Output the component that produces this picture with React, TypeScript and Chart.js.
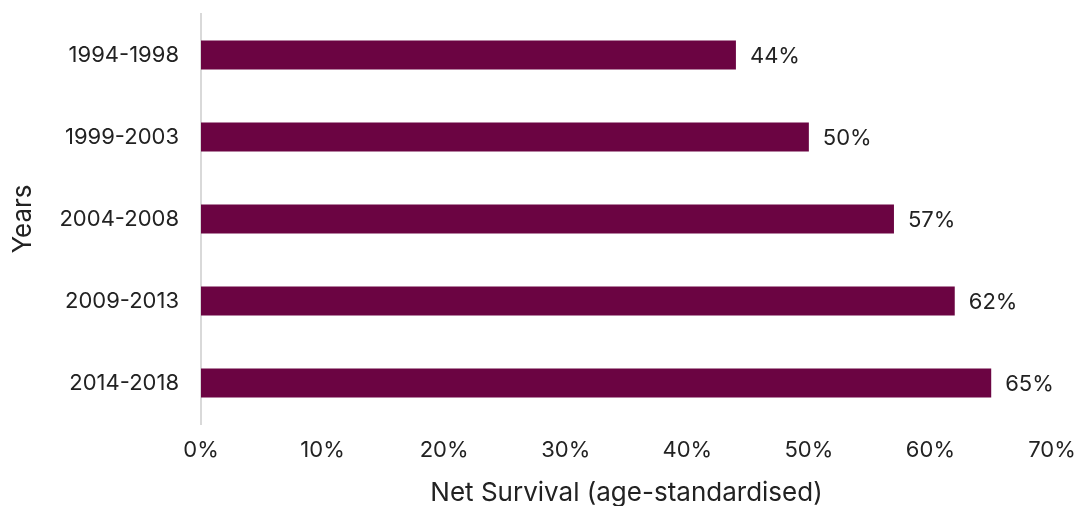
import React, { useEffect, useRef } from "react";
import { Chart, registerables } from "chart.js";

Chart.register(...registerables);

const categories = ["1994-1998", "1999-2003", "2004-2008", "2009-2013", "2014-2018"];
const survival = [44, 50, 57, 62, 65];
const xTicks = [0, 10, 20, 30, 40, 50, 60, 70];

const FONT = "Inter, 'Open Sans', sans-serif";
const TEXT = "#222222";

const labelPlugin = {
  id: "barLabels",
  afterDatasetsDraw(chart: any) {
    const ctx = chart.ctx;
    const meta = chart.getDatasetMeta(0);
    ctx.save();
    ctx.font = `22px ${FONT}`;
    ctx.fillStyle = TEXT;
    ctx.textAlign = "left";
    ctx.textBaseline = "middle";
    meta.data.forEach((bar: any, i: number) => {
      ctx.fillText(`${survival[i]}%`, bar.x + 14, bar.y + 1);
    });
    ctx.restore();
  },
};

const zeroPad = (s: any) => {
  s.paddingLeft = 0;
  s.paddingRight = 0;
  s.paddingTop = 0;
  s.paddingBottom = 0;
};

export default function App() {
  const ref = useRef<HTMLCanvasElement>(null);
  useEffect(() => {
    const chart = new Chart(ref.current!, {
      type: "bar",
      data: {
        labels: categories,
        datasets: [
          {
            data: survival,
            backgroundColor: "#6b0442",
            barPercentage: 0.354,
            categoryPercentage: 1,
          },
        ],
      },
      options: {
        indexAxis: "y",
        animation: false,
        responsive: false,
        maintainAspectRatio: false,
        layout: { padding: { top: 14, right: 26, left: 0, bottom: 0 } },
        plugins: { legend: { display: false }, tooltip: { enabled: false } },
        scales: {
          x: {
            min: 0,
            max: 70,
            afterBuildTicks: (s: any) => {
              s.ticks = xTicks.map((v) => ({ value: v }));
            },
            afterFit: (s: any) => {
              s.height = 82;
              zeroPad(s);
            },
            grid: { display: false, drawTicks: false },
            border: { display: false },
            ticks: {
              padding: 13,
              color: TEXT,
              font: { family: FONT, size: 22 },
              maxRotation: 0,
              callback: (v: any) => `${v}%`,
            },
            title: {
              display: true,
              text: "Net Survival (age-standardised)",
              color: TEXT,
              font: { family: FONT, size: 26, lineHeight: 1 },
              padding: 0,
            },
          },
          y: {
            afterFit: (s: any) => {
              s.width = 201;
              zeroPad(s);
            },
            grid: { display: false, drawTicks: false },
            border: { display: true, color: "#d9d9d9", width: 2 },
            ticks: {
              padding: 22,
              color: TEXT,
              font: { family: FONT, size: 22 },
            },
            title: {
              display: true,
              text: "Years",
              color: TEXT,
              font: { family: FONT, size: 26, lineHeight: 1 },
              padding: { top: 10, bottom: 0 },
            },
          },
        },
      },
      plugins: [labelPlugin],
    });
    return () => chart.destroy();
  }, []);
  return (
    <div style={{ position: "fixed", left: 0, top: 0, width: 1078, height: 506, background: "#fff" }}>
      <canvas ref={ref} width={1078} height={506} style={{ width: 1078, height: 506 }} />
    </div>
  );
}
